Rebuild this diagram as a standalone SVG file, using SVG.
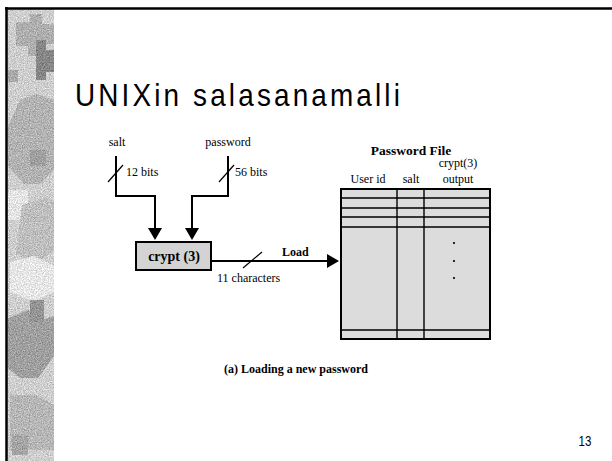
<svg xmlns="http://www.w3.org/2000/svg" width="612" height="461" viewBox="0 0 612 461">
<style>
.serif{font-family:"Liberation Serif","Times New Roman",serif;fill:#000}
.r{font-size:12px}
.b{font-weight:bold}
.ln{stroke:#000;stroke-width:2;fill:none}
.thin{stroke:#000;stroke-width:1.2;fill:none}
.grid{stroke:#000;stroke-width:1.4;fill:none}
.narrow{font-family:"Liberation Sans","Arial",sans-serif;fill:#000}
</style>
<defs>
<marker id="ah" viewBox="0 0 12 14" refX="8" refY="7" markerWidth="12" markerHeight="14" markerUnits="userSpaceOnUse" orient="auto">
<path d="M0,0 L12,7 L0,14 z" fill="#000"/>
</marker>
<filter id="noise" x="0" y="0" width="100%" height="100%" color-interpolation-filters="sRGB">
<feTurbulence type="fractalNoise" baseFrequency="0.85" numOctaves="2" seed="5" result="t"/>
<feColorMatrix in="t" type="matrix" values="1 0 0 0 0  1 0 0 0 0  1 0 0 0 0  0 0 0 0 1" result="g"/>
<feComposite in="SourceGraphic" in2="g" operator="arithmetic" k1="0" k2="1" k3="0.45" k4="-0.2"/>
</filter>
</defs>
<rect width="612" height="461" fill="#fff"/>
<g id="side-strip" filter="url(#noise)">
<rect x="7" y="9" width="47" height="452" fill="#c8c8c8"/>
<path d="M16,22 h14 v-8 h12 v10 h12 v20 h-10 v12 h-16 v-10 h-12 z" fill="#a8a8a8"/>
<path d="M36,40 h10 v10 h8 v22 h-8 v8 h-10 z" fill="#808080"/>
<path d="M8,70 h10 v12 h-10 z" fill="#a2a2a2"/>
<path d="M20,100 l16,-6 l18,6 v70 l-14,14 h-16 l-16,-18 v-40 z" fill="#acacac"/>
<path d="M30,150 h16 v16 h-16 z" fill="#999"/>
<path d="M8,190 h20 v30 h-20 z" fill="#dedede"/>
<path d="M22,205 l24,-8 l8,4 v50 l-20,14 l-18,-12 z" fill="#b8b8b8"/>
<path d="M10,262 l24,-6 l20,10 v26 l-20,10 l-24,-10 z" fill="#e0e0e0"/>
<path d="M8,318 l20,-8 l14,10 l12,-4 v40 l-16,22 h-18 l-12,-10 z" fill="#999"/>
<path d="M30,300 h14 v22 h-14 z" fill="#8e8e8e"/>
<path d="M10,395 h26 l18,10 v45 h-44 z" fill="#b0b0b0"/>
<path d="M12,435 h16 v20 h-16 z" fill="#9e9e9e"/>
</g>
<g id="frame">
<line x1="5" y1="8.5" x2="612" y2="8.5" stroke="#000" stroke-width="2.5"/>
<line x1="6.5" y1="7" x2="6.5" y2="461" stroke="#000" stroke-width="2.5"/>
</g>
<g id="title">
<text class="narrow" transform="translate(75,106) scale(0.9,1)" x="0" y="0" font-size="31" textLength="361" lengthAdjust="spacing">UNIXin salasanamalli</text>
</g>
<g id="salt-input">
<text class="serif r" x="117" y="146" text-anchor="middle">salt</text>
<line class="thin" x1="108" y1="182" x2="123" y2="165"/>
<text class="serif r" x="126" y="176">12 bits</text>
</g>
<g id="password-input">
<text class="serif r" x="228" y="146" text-anchor="middle">password</text>
<line class="thin" x1="219" y1="182" x2="234" y2="165"/>
<text class="serif r" x="235" y="176">56 bits</text>
</g>
<g id="crypt">
<rect x="136" y="242" width="75" height="28" fill="#d3d3d3" stroke="#000" stroke-width="2"/>
<text class="serif b" x="174" y="261" font-size="14" text-anchor="middle">crypt (3)</text>
</g>
<g id="connectors">
<path class="ln" d="M116,156 V196 H155 V236" marker-end="url(#ah)"/>
<path class="ln" d="M228,156 V196 H192 V236" marker-end="url(#ah)"/>
<path class="ln" d="M211,261 H335" marker-end="url(#ah)"/>
<line class="thin" x1="243" y1="268" x2="262" y2="252"/>
<text class="serif r b" x="282" y="256">Load</text>
<text class="serif r" x="217" y="282">11 characters</text>
</g>
<g id="password-file">
<text class="serif b" x="411" y="155" font-size="13.5" text-anchor="middle">Password File</text>
<text class="serif r" x="458" y="167" text-anchor="middle">crypt(3)</text>
<text class="serif r" x="368" y="183" text-anchor="middle">User id</text>
<text class="serif r" x="411" y="183" text-anchor="middle">salt</text>
<text class="serif r" x="458" y="183" text-anchor="middle">output</text>
<rect x="341" y="189" width="149" height="150" fill="#dcdcdc" stroke="#000" stroke-width="2"/>
<path class="grid" d="M397,189 V339 M424,189 V339 M341,198 H490 M341,208 H490 M341,217 H490 M341,227 H490 M341,330 H490"/>
<circle cx="454" cy="243" r="1.1" fill="#000"/>
<circle cx="454" cy="261" r="1.1" fill="#000"/>
<circle cx="454" cy="278" r="1.1" fill="#000"/>
</g>
<g id="caption">
<text class="serif r b" x="224" y="373">(a) Loading a new password</text>
</g>
<g id="page-number">
<text class="narrow" transform="translate(585,446) scale(0.82,1)" x="0" y="0" font-size="14" text-anchor="middle" fill="#333">13</text>
</g>
</svg>
